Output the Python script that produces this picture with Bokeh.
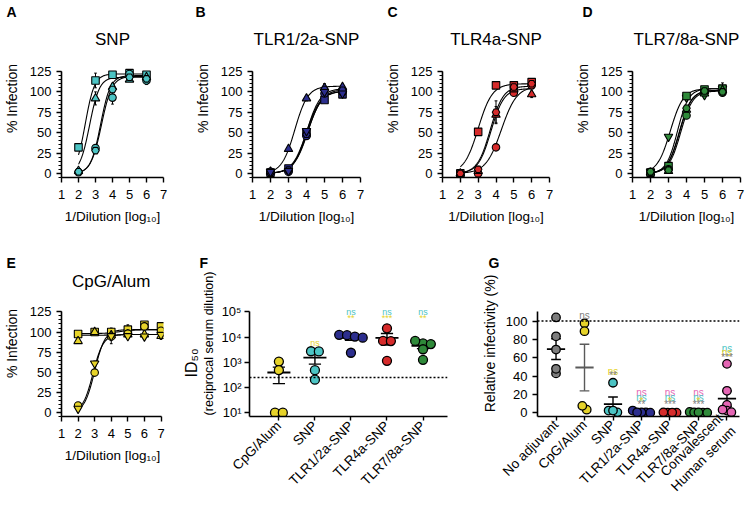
import math
import numpy as np
from bokeh.plotting import figure
from bokeh.layouts import row, column
from bokeh.models import Title, Label, SingleIntervalTicker, FixedTicker, Span, Range1d
from bokeh.core.properties import value
from bokeh.embed import file_html
from bokeh.resources import INLINE

FONT = "Liberation Sans"

# ---------------- colours ----------------
TEAL = "#4cc4c4"
NAVY = "#2c2e8e"
RED = "#d62b2b"
GREEN = "#2f8a3a"
YELLOW = "#e6d32a"
GRAY = "#7d7d7d"
PINK = "#e466b4"

# ---------------- dose-response data (x = log10 1/dilution) ----------------
dil = [2, 3, 4, 5, 6]
dil_e = [2, 3, 4, 5, 6, 7]

snp_marker = ["square", "triangle", "circle", "hex"]
snp_y = [[32, 114, 121, 123, 121],
         [3, 92, 106, 115, 118],
         [1.5, 31, 93, 122, 114],
         [2, 28, 103, 118, 116]]
snp_err = [[0, 9, 0, 2, 3],
           [0, 8, 4, 2, 4],
           [0, 4, 8, 2, 5],
           [0, 3, 4, 3, 4]]
snp_bottom = [0, 0, 0, 0]
snp_top = [122, 118, 120, 119]
snp_ic50 = [2.4, 2.65, 3.3, 3.35]
snp_hill = [1.6, 1.5, 1.5, 1.4]

tlr12_marker = ["triangle", "square", "circle", "hex", "inverted_triangle"]
tlr12_y = [[2, 30, 92, 105, 106],
           [1, 6, 50, 90, 97],
           [2, 2, 46, 98, 100],
           [1, 4, 48, 103, 102],
           [2, 3, 52, 100, 98]]
tlr12_err = [[0, 2, 3, 5, 3],
             [0, 2, 4, 3, 3],
             [0, 1, 4, 3, 3],
             [0, 2, 3, 4, 3],
             [0, 1, 3, 3, 3]]
tlr12_bottom = [0, 0, 0, 0, 0]
tlr12_top = [107, 101, 103, 104, 101]
tlr12_ic50 = [3.35, 4.05, 4.08, 4.02, 4.0]
tlr12_hill = [1.2, 1.1, 1.1, 1.15, 1.1]

tlr4_marker = ["square", "circle", "triangle", "hex"]
tlr4_y = [[0, 51, 108, 108, 112],
          [0, 0, 32, 99, 108],
          [0, 3, 72, 103, 97],
          [0, 5, 75, 106, 110]]
tlr4_err = [[0, 2, 2, 3, 2],
            [0, 1, 3, 3, 3],
            [0, 2, 10, 4, 4],
            [0, 2, 14, 3, 3]]
tlr4_bottom = [0, 0, 0, 0]
tlr4_top = [110, 107, 104, 107]
tlr4_ic50 = [3.0, 4.3, 3.72, 3.68]
tlr4_hill = [1.1, 1.0, 1.2, 1.2]

tlr78_marker = ["inverted_triangle", "square", "circle", "triangle", "hex"]
tlr78_y = [[2, 45, 93, 96, 104],
           [1, 9, 95, 103, 104],
           [2, 5, 71, 100, 99],
           [1, 3, 78, 98, 102],
           [2, 4, 80, 101, 100]]
tlr78_err = [[0, 2, 3, 3, 7],
             [0, 2, 3, 2, 3],
             [0, 1, 3, 3, 3],
             [0, 1, 3, 3, 3],
             [0, 1, 3, 3, 3]]
tlr78_bottom = [0, 0, 0, 0, 0]
tlr78_top = [104, 104, 101, 102, 102]
tlr78_ic50 = [3.1, 3.5, 3.68, 3.62, 3.6]
tlr78_hill = [1.2, 1.4, 1.3, 1.3, 1.3]

cpg_marker = ["square", "triangle", "circle", "inverted_triangle"]
cpg_y = [[97.6, 100, 100, 103, 109, 107],
         [88.7, 100, 96, 97, 97, 95],
         [8.6, 49.6, 94.5, 98, 107, 101.6],
         [4.7, 61, 95, 95, 94.5, 96.5]]
cpg_err = [[2, 3, 5, 6, 3, 3],
           [2, 2, 6, 3, 2, 4],
           [1, 3, 9, 4, 3, 8],
           [1, 3, 4, 3, 2, 4]]
cpg_bottom = [98, 96, 0, 0]
cpg_top = [103, 97, 103, 97]
cpg_ic50 = [4.5, 4.5, 3.0, 2.9]
cpg_hill = [1.0, 1.0, 1.4, 1.4]

x_ticks = [1, 2, 3, 4, 5, 6, 7]
y_ticks_step = 25
y_axis_max = 125

# ---------------- panel F: ID50 ----------------
f_groups = ["CpG/Alum", "SNP", "TLR1/2a-SNP", "TLR4a-SNP", "TLR7/8a-SNP"]
f_colors = [YELLOW, TEAL, NAVY, RED, GREEN]
f_cpg = [1070, 490, 10, 10]
f_snp = [2750, 2700, 490, 205]
f_tlr12 = [12300, 12000, 10500, 9500, 2400]
f_tlr4 = [22400, 7100, 7000, 1150]
f_tlr78 = [5600, 7100, 5300, 3300, 1260]
f_cutoff = 250
f_ticks = [10, 100, 1000, 10000, 100000]
f_tick_labels = ["10¹", "10²", "10³", "10⁴", "10⁵"]
f_sig_group = [2, 3, 3, 4, 4, 5, 5]
f_sig_y = [6000, 95000, 58000, 95000, 58000, 95000, 58000]
f_sig_text = ["ns", "ns", "**", "ns", "***", "ns", "**"]
f_sig_color = [YELLOW, TEAL, YELLOW, TEAL, YELLOW, TEAL, YELLOW]

# ---------------- panel G: relative infectivity ----------------
g_groups = ["No adjuvant", "CpG/Alum", "SNP", "TLR1/2a-SNP", "TLR4a-SNP",
            "TLR7/8a-SNP", "Convalescent\nHuman serum"]
g_colors = [GRAY, YELLOW, TEAL, NAVY, RED, GREEN, PINK]
g_noadj = [104, 83.4, 69, 43, 48]
g_cpg = [97.6, 89, 3.4, 7.6]
g_snp = [32.8, 0.5, 2.5, 2.5]
g_tlr12 = [0.5, 2.5, 0.5, 0.2, 0.6]
g_tlr4 = [0.3, 0.2, 0.5, 0.3]
g_tlr78 = [1.0, 0.5, 0.3, 0.5, 0.2]
g_conv = [53.4, 24, 8.6, 2.4, 3.4, 0.7]
g_ref = 100
g_yticks = [0, 20, 40, 60, 80, 100]
g_ymax = 110
g_sig_group = [2, 3, 3, 4, 4, 4, 4, 5, 5, 5, 5, 6, 6, 6, 6, 7, 7, 7]
g_sig_y = [106, 45.5, 40.3, 22.4, 17.2, 12.5, 8.8, 22.4, 17.2, 12.5, 8.8,
           22.4, 17.2, 12.5, 8.8, 70, 65.5, 60.5]
g_sig_text = ["ns", "ns", "**", "ns", "ns", "*", "**", "ns", "ns", "*", "***",
              "ns", "ns", "*", "***", "ns", "ns", "***"]
g_sig_color = [GRAY, YELLOW, GRAY, PINK, TEAL, YELLOW, GRAY, PINK, TEAL, YELLOW, GRAY,
               PINK, TEAL, YELLOW, GRAY, TEAL, YELLOW, GRAY]
g_bar_color = ["black", "#5a5a5a", "black", "black", "black", "black", "black"]


def style_axes(p, xlabel, ylabel, label_size="14px"):
    p.xgrid.grid_line_color = None
    p.ygrid.grid_line_color = None
    p.outline_line_color = None
    for ax in p.axis:
        ax.axis_line_width = 1.6
        ax.axis_line_color = "black"
        ax.major_tick_line_width = 1.4
        ax.major_tick_line_color = "black"
        ax.minor_tick_line_width = 1.1
        ax.minor_tick_line_color = "black"
        ax.major_tick_in = 0
        ax.major_tick_out = 5
        ax.minor_tick_in = 0
        ax.minor_tick_out = 3
        ax.major_label_text_font = FONT
        ax.major_label_text_font_size = "13px"
        ax.major_label_text_color = "black"
        ax.major_label_standoff = 5
        ax.axis_label_text_font = FONT
        ax.axis_label_text_font_size = label_size
        ax.axis_label_text_font_style = "normal"
        ax.axis_label_text_color = "black"
        ax.axis_label_standoff = 7
    p.xaxis.axis_label = xlabel
    p.yaxis.axis_label = ylabel
    p.xaxis.minor_tick_line_color = None


def add_letter(p, letter, offset):
    p.add_layout(Title(text=letter, align="left", offset=offset, text_font=FONT,
                       text_font_size="14px", text_font_style="bold",
                       text_color="black", standoff=0), "above")


def curve_panel(title, letter, xs, ys, errs, marks, bottom, top, ic50, hill, color,
                height, bl, fw, br, bt, bb, letter_off, title_dy, xmax=7.0):
    fh = height - bt - bb            # frame height (px)
    ppu = 106 / 130                  # px per % unit on the y axis
    ytop = -5 + fh / ppu
    p = figure(width=bl + fw + br, height=height, x_range=Range1d(1, xmax),
               y_range=Range1d(-5, ytop), output_backend="svg", toolbar_location=None,
               title=None, min_border_left=bl, min_border_right=br,
               min_border_top=bt, min_border_bottom=bb)
    style_axes(p, "1/Dilution [log₁₀]", "% Infection")
    p.xaxis.axis_label_text_font_size = "13.5px"
    p.xaxis.ticker = FixedTicker(ticks=x_ticks)
    p.xaxis.bounds = (1, 7)
    p.xaxis.major_label_standoff = 7
    p.yaxis.ticker = SingleIntervalTicker(interval=y_ticks_step, num_minor_ticks=5)
    p.yaxis.bounds = (-5, y_axis_max)
    x = np.array(xs, dtype=float)
    xf = np.linspace(x.min(), x.max(), 150)
    for i in range(len(ys)):
        yf = bottom[i] + (top[i] - bottom[i]) / (1 + 10 ** ((ic50[i] - xf) * hill[i]))
        p.line(xf, yf, line_color="black", line_width=1.1)
    for i in range(len(ys)):
        y = np.array(ys[i], dtype=float)
        e = np.array(errs[i], dtype=float)
        m = e > 0
        p.segment(x[m], y[m] - e[m], x[m], y[m] + e[m], line_color="black", line_width=1)
        p.segment(x[m] - 0.08, y[m] + e[m], x[m] + 0.08, y[m] + e[m], line_color="black", line_width=1)
        p.segment(x[m] - 0.08, y[m] - e[m], x[m] + 0.08, y[m] - e[m], line_color="black", line_width=1)
    for i in range(len(ys)):
        sz = 8.5 if "triangle" in marks[i] else 7.5
        p.scatter(x, ys[i], marker=marks[i], size=sz, fill_color=color,
                  line_color="black", line_width=1.1)
    p.add_layout(Label(x=(1 + 7) / 2, y=y_axis_max + title_dy / ppu, text=title,
                       text_font=FONT, text_font_size="17px", text_align="center",
                       text_baseline="middle", text_color="black"))
    add_letter(p, letter, letter_off)
    return p


def swarm(vals, px_per_unit, step_px, spacing_px, log=False):
    v = np.log10(np.array(vals, dtype=float)) if log else np.array(vals, dtype=float)
    ypx = v * px_per_unit
    order = list(np.argsort(-ypx))
    offs = np.zeros(len(vals))
    rows = []
    for i in order:
        if rows and abs(ypx[rows[-1][0]] - ypx[i]) < step_px:
            rows[-1].append(i)
        else:
            rows.append([i])
    for r in rows:
        n = len(r)
        for j, i in enumerate(r):
            offs[i] = (j - (n - 1) / 2) * step_px / spacing_px
    return offs


def dot_panel(p, groups, colors, px_per_unit, step_px, spacing_px, log, bar_colors, size):
    for gi, (vals, col) in enumerate(zip(groups, colors)):
        cx = gi + 1
        off = swarm(vals, px_per_unit, step_px, spacing_px, log)
        a = np.array(vals, dtype=float)
        mean = a.mean()
        sem = a.std(ddof=1) / math.sqrt(len(a))
        bc = bar_colors[gi]
        p.segment([cx - 0.32], [mean], [cx + 0.32], [mean], line_color=bc, line_width=1.8)
        p.segment([cx], [mean - sem], [cx], [mean + sem], line_color=bc, line_width=1.4)
        p.segment([cx - 0.17, cx - 0.17], [mean - sem, mean + sem],
                  [cx + 0.17, cx + 0.17], [mean - sem, mean + sem], line_color=bc, line_width=1.4)
        p.scatter(cx + off, a, marker="circle", size=size, fill_color=col,
                  line_color="black", line_width=1.3)


# ---------------- top row ----------------
H1, TB, BB = 251, 19, 74
pA = curve_panel("SNP", "A", dil, snp_y, snp_err, snp_marker, snp_bottom, snp_top,
                 snp_ic50, snp_hill, TEAL, H1, 57, 106, 22, TB, BB, -55, 32)
pB = curve_panel("TLR1/2a-SNP", "B", dil, tlr12_y, tlr12_err, tlr12_marker, tlr12_bottom,
                 tlr12_top, tlr12_ic50, tlr12_hill, NAVY, H1, 67, 108, 15, TB, BB, -57, 32)
pC = curve_panel("TLR4a-SNP", "C", dil, tlr4_y, tlr4_err, tlr4_marker, tlr4_bottom,
                 tlr4_top, tlr4_ic50, tlr4_hill, RED, H1, 67, 107, 11, TB, BB, -55, 32)
pD = curve_panel("TLR7/8a-SNP", "D", dil, tlr78_y, tlr78_err, tlr78_marker, tlr78_bottom,
                 tlr78_top, tlr78_ic50, tlr78_hill, GREEN, H1, 72, 108, 5, TB, BB, -50, 32)

# ---------------- bottom row ----------------
H2, BT2, BB2 = 257, 19, 90
FH2 = H2 - BT2 - BB2
pE = curve_panel("CpG/Alum", "E", dil_e, cpg_y, cpg_err, cpg_marker, cpg_bottom, cpg_top,
                 cpg_ic50, cpg_hill, YELLOW, H2, 57, 106, 17, BT2, BB2, -55, 31,
                 xmax=7.15)

# F
F_PPD = 106 / 4.15                      # px per decade
F_LOW = 10 ** 0.85
F_TOP = 10 ** (0.85 + FH2 / F_PPD)
F_XR = (0.184, 5.68)
F_BL, F_W, F_BR = 65, 202, 31
pF = figure(width=F_BL + F_W + F_BR, height=H2, x_range=Range1d(*F_XR),
            y_range=Range1d(F_LOW, F_TOP), y_axis_type="log", output_backend="svg",
            toolbar_location=None, title=None, min_border_left=F_BL, min_border_right=F_BR,
            min_border_top=BT2, min_border_bottom=BB2)
style_axes(pF, "", "(reciprocal serum dilution)", label_size="12.5px")
pF.yaxis.ticker = FixedTicker(ticks=f_ticks)
pF.yaxis.bounds = (F_LOW, f_ticks[-1])
pF.yaxis.major_label_overrides = dict(zip(f_ticks, f_tick_labels))
pF.yaxis.axis_label_standoff = 2
pF.yaxis.major_label_standoff = 3
pF.xaxis.ticker = FixedTicker(ticks=list(range(1, len(f_groups) + 1)))
pF.xaxis.major_label_overrides = {i + 1: g for i, g in enumerate(f_groups)}
pF.xaxis.major_label_orientation = math.pi / 4
pF.xaxis.major_label_standoff = 3
pF.xaxis.major_tick_out = 4
pF.xaxis.major_label_text_font_size = "13.5px"
pF.add_layout(Span(location=f_cutoff, dimension="width", line_color="black",
                   line_dash="2 2", line_width=1.5))
dot_panel(pF, [f_cpg, f_snp, f_tlr12, f_tlr4, f_tlr78], f_colors,
          F_PPD, 8, F_W / (F_XR[1] - F_XR[0]), True, ["black"] * 5, 9)
pF.text(x=f_sig_group, y=f_sig_y, text=f_sig_text, text_color=f_sig_color,
        text_font=value(FONT), text_font_size="9px", text_align="center",
        text_baseline="middle")
# ID50 centred on the axis line (which is shorter than the frame)
id50_offset = (5 - 0.85) * F_PPD / 2 - 14
pF.add_layout(Title(text="ID₅₀", align="left", offset=id50_offset,
                    text_font=FONT, text_font_size="16px", text_font_style="normal",
                    text_color="black", standoff=0), "left")
add_letter(pF, "F", -50)

# G
G_PPU = 106 / 114
G_XR = (0.35, 7.44)
G_YR = (-4, -4 + FH2 / G_PPU)
G_BL, G_W, G_BR = 54, 207, 6
pG = figure(width=G_BL + G_W + G_BR, height=H2, x_range=Range1d(*G_XR),
            y_range=Range1d(*G_YR), output_backend="svg", toolbar_location=None,
            title=None, min_border_left=G_BL, min_border_right=G_BR,
            min_border_top=BT2, min_border_bottom=BB2)
style_axes(pG, "", "Relative infectivity (%)")
pG.yaxis.ticker = FixedTicker(ticks=g_yticks)
pG.yaxis.bounds = (-4, g_ymax)
pG.yaxis.axis_label_standoff = 5
pG.xaxis.ticker = FixedTicker(ticks=list(range(1, len(g_groups) + 1)))
pG.xaxis.major_label_overrides = {i + 1: g for i, g in enumerate(g_groups)}
pG.xaxis.major_label_orientation = math.pi / 4
pG.xaxis.major_label_standoff = 2
pG.xaxis.major_tick_out = 4
pG.xaxis.major_label_text_font_size = "13.5px"
pG.add_layout(Span(location=g_ref, dimension="width", line_color="black",
                   line_dash="2 2", line_width=1.5))
dot_panel(pG, [g_noadj, g_cpg, g_snp, g_tlr12, g_tlr4, g_tlr78, g_conv], g_colors,
          G_PPU, 4.5, G_W / (G_XR[1] - G_XR[0]), False, g_bar_color, 8.5)
pG.text(x=g_sig_group, y=g_sig_y, text=g_sig_text, text_color=g_sig_color,
        text_font=value(FONT), text_font_size="10px", text_align="center",
        text_baseline="middle")
add_letter(pG, "G", -49)

layout = column(row(pA, pB, pC, pD), row(pE, pF, pG))
open("out.html", "w").write(file_html(layout, INLINE))
